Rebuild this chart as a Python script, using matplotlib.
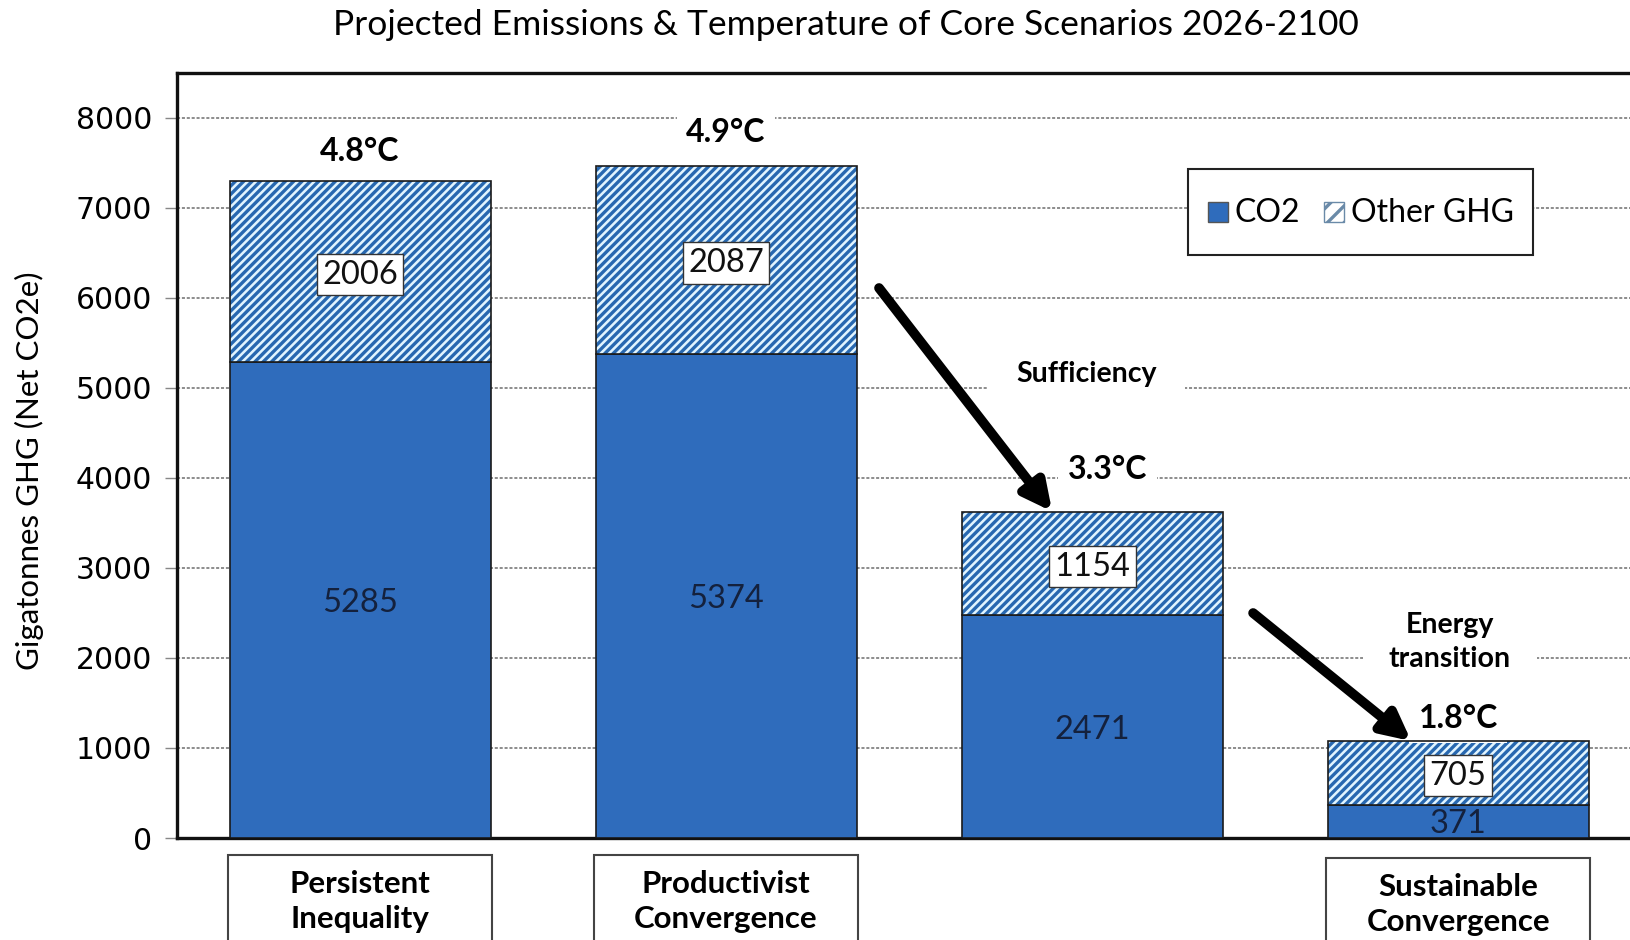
import matplotlib.pyplot as plt
from matplotlib.patches import Patch, Rectangle
from matplotlib.legend_handler import HandlerPatch
import matplotlib.transforms as mtransforms

plt.rcParams['font.family'] = ['Lato', 'DejaVu Sans']
plt.rcParams['hatch.linewidth'] = 2.4

# data
scenarios = ['Persistent\nInequality', 'Productivist\nConvergence', '', 'Sustainable\nConvergence']
co2 = [5285, 5374, 2471, 371]
other_ghg = [2006, 2087, 1154, 705]
temps = ['4.8°C', '4.9°C', '3.3°C', '1.8°C']
yticks = [0, 1000, 2000, 3000, 4000, 5000, 6000, 7000, 8000]

# styling
blue = '#2F6CBC'
hatch_blue = '#2868B0'
hatch_bg = '#e2f5ff'
bar_w = 0.713
temp_offsets_pt = [(0, 23), (0, 26), (11, 32), (0, 18)]

fig = plt.figure(figsize=(16.3, 9.4), dpi=100)
ax = fig.add_axes([0.1086, 0.1085, 0.8982, 0.8138])

x = list(range(len(co2)))
totals = [a + b for a, b in zip(co2, other_ghg)]

ax.bar(x, co2, width=bar_w, color=blue, edgecolor='#1a1a1a', linewidth=1.2, zorder=3)
ax.bar(x, other_ghg, bottom=co2, width=bar_w, color=hatch_bg, edgecolor=hatch_blue,
       hatch='////', linewidth=0, zorder=3)
ax.bar(x, other_ghg, bottom=co2, width=bar_w, fill=False, edgecolor='#1a1a1a',
       linewidth=1.2, zorder=4)

ax.set_xlim(-0.5, 3.5)
ax.set_ylim(0, 8494)
ax.set_yticks(yticks)
ax.set_yticklabels([str(v) for v in yticks], family='DejaVu Sans', fontsize=21.5)
ax.set_xticks([])
ax.tick_params(axis='y', length=9, width=1, color='#888888', pad=9)

for v in yticks[1:]:
    ax.axhline(v, color='#6e6e6e', linewidth=1.1, linestyle=(0, (2, 1.2)), zorder=1)

for s in ['top', 'left', 'bottom']:
    ax.spines[s].set_linewidth(2.4)
    ax.spines[s].set_color('#111111')
ax.spines['right'].set_visible(False)

ax.set_ylabel('Gigatonnes GHG (Net CO2e)', fontsize=22.5)
ax.yaxis.set_label_coords(-0.091, 0.48)

# value labels
for i in x:
    ax.text(i, co2[i] / 2, str(co2[i]), ha='center', va='center_baseline', fontsize=23.5,
            color='#14213d', zorder=6)
    ax.text(i, co2[i] + other_ghg[i] / 2, str(other_ghg[i]), ha='center',
            va='center_baseline', fontsize=23.5, color='#111111', zorder=6,
            bbox=dict(boxstyle='square,pad=0.17', facecolor='white', edgecolor='#333333',
                      linewidth=1.0))
    ax.annotate(temps[i], xy=(i, totals[i]), xytext=temp_offsets_pt[i],
                textcoords='offset points', ha='center', va='center_baseline',
                fontsize=23, fontweight='bold', zorder=3.5,
                bbox=dict(boxstyle='square,pad=0.3', facecolor='white', edgecolor='none'))

# scenario label boxes below the axis
trans = mtransforms.blended_transform_factory(ax.transData, ax.transAxes)
for i, name in enumerate(scenarios):
    if not name:
        continue
    shift = -0.004 if i == 3 else 0.0
    ax.add_patch(Rectangle((i - bar_w / 2 - 0.005, -0.16 + shift), bar_w + 0.01, 0.138,
                           transform=trans, clip_on=False, facecolor='white',
                           edgecolor='#444444', linewidth=1.5))
    ax.text(i, -0.083 + shift, name, transform=trans, ha='center', va='center',
            fontsize=22.5, fontweight='bold', linespacing=1.3)

# arrows between scenarios
ax.annotate('', xy=(2 - 0.109, totals[2]), xytext=(1 + 0.418, 6107),
            arrowprops=dict(arrowstyle='-|>', lw=7, color='black', mutation_scale=42,
                            shrinkA=0, shrinkB=0), zorder=7)
ax.annotate('', xy=(3 - 0.128, totals[3]), xytext=(2 + 0.44, 2498),
            arrowprops=dict(arrowstyle='-|>', lw=7, color='black', mutation_scale=42,
                            shrinkA=0, shrinkB=0), zorder=7)
ax.text(1.984, 5152, 'Sufficiency', ha='center', va='center', fontsize=20.5,
        fontweight='bold', zorder=5,
        bbox=dict(boxstyle='square,pad=1.0', facecolor='white', edgecolor='none'))
ax.text(2.978, 2175, 'Energy\ntransition', ha='center', va='center', fontsize=20.5,
        fontweight='bold', zorder=5, linespacing=1.4,
        bbox=dict(boxstyle='square,pad=0.9', facecolor='white', edgecolor='none'))


def small_square(legend, orig_handle, xdescent, ydescent, width, height, fontsize):
    s = 0.62 * fontsize
    return Rectangle((-xdescent + (width - s) / 2, -ydescent + (height - s) / 2), s, s)


handles = [Patch(facecolor=blue, edgecolor='#555555', label='CO2'),
           Patch(facecolor='white', edgecolor='#6a8aa8', hatch='//', label='Other GHG')]
leg = ax.legend(handles=handles, loc='upper left', bbox_to_anchor=(0.6906, 0.8745),
                ncol=2, fontsize=23, handlelength=0.65, handleheight=1.9,
                handletextpad=0.2, columnspacing=0.75, borderpad=0.6, borderaxespad=0,
                fancybox=False, framealpha=1, edgecolor='#222222',
                handler_map={Patch: HandlerPatch(patch_func=small_square)})
leg.get_frame().set_linewidth(1.5)
leg.set_zorder(8)

fig.text(0.519, 0.973, 'Projected Emissions & Temperature of Core Scenarios 2026-2100',
         ha='center', va='center', fontsize=25.5)

fig.savefig('out.png', dpi=100)
